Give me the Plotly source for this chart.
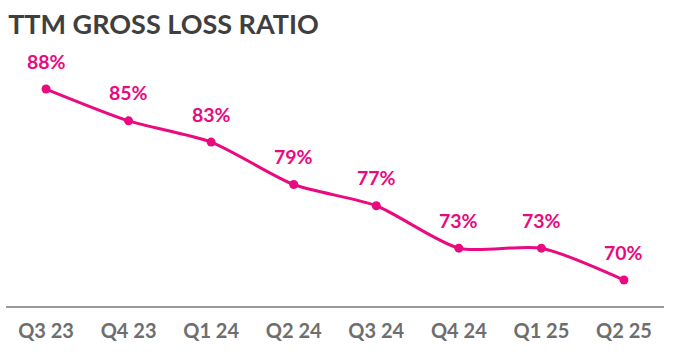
import plotly.graph_objects as go

quarters = ["Q3 23", "Q4 23", "Q1 24", "Q2 24", "Q3 24", "Q4 24", "Q1 25", "Q2 25"]
loss_ratio = [88, 85, 83, 79, 77, 73, 73, 70]
labels = [f"{v}%" for v in loss_ratio]

PINK = "#EA0A80"

fig = go.Figure()
fig.add_trace(go.Scatter(
    x=list(range(len(quarters))), y=loss_ratio,
    mode="lines+markers",
    line=dict(color=PINK, width=3, shape="spline", smoothing=0.7),
    marker=dict(color=PINK, size=9),
    hoverinfo="skip",
))
for i, (v, t) in enumerate(zip(loss_ratio, labels)):
    fig.add_annotation(x=i, y=v, text=t, showarrow=False, yshift=28,
                       font=dict(family="Lato", size=19.5, color=PINK, weight="bold"))

fig.update_layout(
    width=678, height=354,
    margin=dict(l=6, r=14, t=50, b=48),
    paper_bgcolor="white", plot_bgcolor="white",
    showlegend=False,
    title=dict(text="<b>TTM GROSS LOSS RATIO</b>", x=0.012, xanchor="left",
               y=0.93, yanchor="middle",
               font=dict(family="Lato", size=27, color="#3f3f3f")),
    xaxis=dict(range=[-0.485, 7.485], tickmode="array",
               tickvals=list(range(len(quarters))), ticktext=quarters,
               showgrid=False, zeroline=False, showline=True,
               linecolor="#9a9a9a", linewidth=2, ticks="",
               ticklabelstandoff=6,
               tickfont=dict(family="Lato", size=20, color="#6e6e6e", weight="bold")),
    yaxis=dict(range=[67.55, 91.68], visible=False, showgrid=False, zeroline=False),
)
fig.write_html("out.html")
